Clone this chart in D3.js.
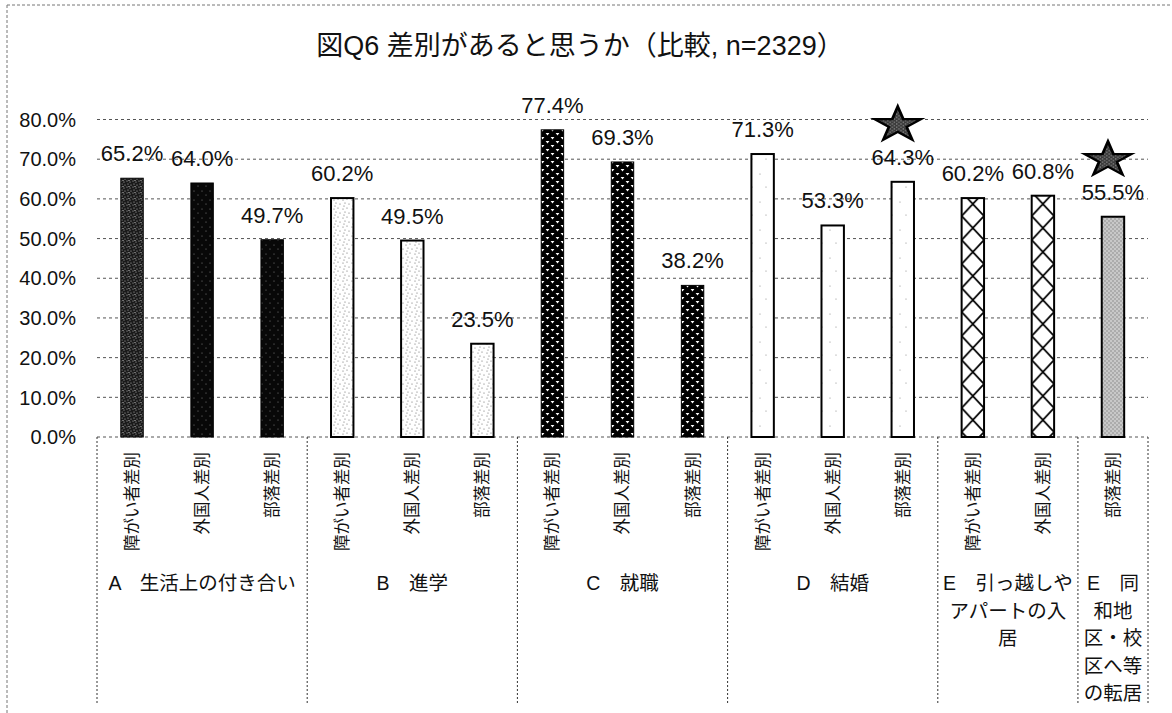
<!DOCTYPE html>
<html><head><meta charset="utf-8">
<script src="https://cdn.jsdelivr.net/npm/d3@7"></script>
<style>
body{margin:0;background:#fff;}
svg{display:block;font-family:"Liberation Sans","Noto Sans CJK JP",sans-serif;}
</style></head><body>
<div id="chart"></div>
<script>
// 図Q6 差別があると思うか（比較）
const title = "図Q6 差別があると思うか（比較, n=2329）";
const groupKeys = ["A","B","C","D","E","F"];
const groupLabels = [
  ["A　生活上の付き合い"],
  ["B　進学"],
  ["C　就職"],
  ["D　結婚"],
  ["E　引っ越しや","アパートの入","居"],
  ["E　同","和地","区・校","区へ等","の転居"]
];
const barGroup  = ["A","A","A","B","B","B","C","C","C","D","D","D","E","E","F"];
const barLabels = ["障がい者差別","外国人差別","部落差別","障がい者差別","外国人差別","部落差別",
                   "障がい者差別","外国人差別","部落差別","障がい者差別","外国人差別","部落差別",
                   "障がい者差別","外国人差別","部落差別"];
const values    = [65.2,64.0,49.7,60.2,49.5,23.5,77.4,69.3,38.2,71.3,53.3,64.3,60.2,60.8,55.5];
const starred   = [11,14];
const yTicks    = [0,10,20,30,40,50,60,70,80];

const W=1172, H=713, m={l:97,r:24};
const svg = d3.select("#chart").append("svg").attr("width",W).attr("height",H);
const defs = svg.append("defs");

const x = d3.scaleBand().domain(d3.range(values.length)).range([m.l, W-m.r])
  .paddingInner(0.68).paddingOuter(0.34);
const y = d3.scaleLinear().domain([0,80]).range([437,119.5]);

// Muster (Scan-Optik)
function tile(id,w,h,bg){
  const p=defs.append("pattern").attr("id",id).attr("patternUnits","userSpaceOnUse").attr("width",w).attr("height",h);
  p.append("rect").attr("width",w).attr("height",h).attr("fill",bg);
  return p;
}
const dots=(p,pts,c,r)=>pts.forEach(([a,b])=>p.append("circle").attr("cx",a).attr("cy",b).attr("r",r).attr("fill",c));

const pA1=tile("patA1",6,6,"#1a1a1a");
dots(pA1,[[1,1],[4,2],[2,4],[5,5],[3,0.5]],"#bbb",0.6);
const pA=tile("patA",8,9,"#080808");
dots(pA,[[2,2],[6,6]],"#999",0.5);
const pB=tile("patB",9,9,"#fff");
dots(pB,[[1,2],[5,1],[3,5],[7,6],[2,8]],"#666",0.6);
const pC=tile("patC",10,8,"#000");
pC.append("path").attr("d","M0.6,1 L4.4,1 L2.5,3.6Z M5.6,5 L9.4,5 L7.5,7.6Z").attr("fill","#fff");
const pD=tile("patD",14,28,"#fff");
dots(pD,[[4,6],[10,19]],"#888",0.6);
const pF=tile("patF",4,4,"#c8c8c8");
dots(pF,[[1,1],[3,3]],"#7a7a7a",0.7);
const pS=tile("patS",4,4,"#3a3a3a");
dots(pS,[[1,1],[3,3]],"#999",0.7);

// Kreuzschraffur je Balken an Balkenkante ausgerichtet
function crossFor(i){
  const bw=x.bandwidth(), th=24, id="patE"+i;
  const p=defs.append("pattern").attr("id",id).attr("patternUnits","userSpaceOnUse")
    .attr("x",x(i)).attr("y",0).attr("width",bw).attr("height",th);
  p.append("rect").attr("width",bw).attr("height",th).attr("fill","#fff");
  p.append("path").attr("d",`M0,0 L${bw},${th} M${bw},0 L0,${th}`).attr("stroke","#000").attr("stroke-width",1.8);
  return `url(#${id})`;
}
function fillFor(i){
  const g=barGroup[i];
  if(g==="A") return barLabels[i]==="障がい者差別" ? "url(#patA1)" : "url(#patA)";
  if(g==="B") return "url(#patB)";
  if(g==="C") return "url(#patC)";
  if(g==="D") return "url(#patD)";
  if(g==="E") return crossFor(i);
  return "url(#patF)";
}

// Rahmen
svg.append("line").attr("x1",7).attr("x2",W).attr("y1",5).attr("y2",5)
  .attr("stroke","#777").attr("stroke-dasharray","3,2");
svg.append("line").attr("x1",7).attr("x2",7).attr("y1",5).attr("y2",H)
  .attr("stroke","#777").attr("stroke-dasharray","3,2");

// Titel
svg.append("text").attr("x",580).attr("y",55).attr("text-anchor","middle")
  .attr("font-size",27).attr("fill","#111").text(title);

// Gitter + y-Achse
const grid=svg.append("g");
yTicks.forEach(t=>{
  grid.append("line").attr("x1",m.l).attr("x2",W-m.r).attr("y1",y(t)).attr("y2",y(t))
    .attr("stroke","#555").attr("stroke-width",1).attr("stroke-dasharray","3,3");
  grid.append("text").attr("x",76).attr("y",y(t)).attr("dy",".36em").attr("text-anchor","end")
    .attr("font-size",20).attr("fill","#111").text(t.toFixed(1)+"%");
});

// Balken
const bars=svg.append("g");
values.forEach((v,i)=>{
  bars.append("rect").attr("x",x(i)).attr("y",y(v)).attr("width",x.bandwidth()).attr("height",y(0)-y(v))
    .attr("fill",fillFor(i)).attr("stroke","#000").attr("stroke-width",barGroup[i]==="A"||barGroup[i]==="C"?1:2);
  bars.append("text").attr("x",x(i)+x.bandwidth()/2).attr("y",y(v)-17).attr("text-anchor","middle")
    .attr("font-size",22).attr("fill","#111").text(v.toFixed(1)+"%");
});

// Sterne
const star=d3.symbol(d3.symbolStar,560);
starred.forEach(i=>{
  svg.append("path").attr("d",star())
    .attr("transform",`translate(${x(i)+x.bandwidth()/2-5},${y(values[i])-57}) scale(1.1,0.82)`)
    .attr("fill","url(#patS)").attr("stroke","#000").attr("stroke-width",2.6).attr("stroke-linejoin","miter");
});

// Kategorie-Achse: senkrechte Beschriftung
const cat=svg.append("g");
barLabels.forEach((s,i)=>{
  cat.append("text").attr("transform",`translate(${x(i)+x.bandwidth()/2},452) rotate(-90)`)
    .attr("text-anchor","end").attr("dy",".36em").attr("font-size",16.5).attr("fill","#111").text(s);
});

// Gruppen-Trennlinien und Gruppen-Beschriftung
const gIdx=groupKeys.map(k=>[barGroup.indexOf(k), barGroup.lastIndexOf(k)]);
const half=(x.step()-x.bandwidth())/2;
const edges=[x(0)-half].concat(gIdx.map(([a,b])=>x(b)+x.bandwidth()+half));
edges.forEach(e=>{
  cat.append("line").attr("x1",e).attr("x2",e).attr("y1",y(0)).attr("y2",705)
    .attr("stroke","#333").attr("stroke-dasharray","2,2");
});
groupLabels.forEach((lines,gi)=>{
  const cx=(edges[gi]+edges[gi+1])/2;
  lines.forEach((s,li)=>{
    cat.append("text").attr("x",cx).attr("y",583+li*27.5).attr("dy",".36em").attr("text-anchor","middle")
      .attr("font-size",19.5).attr("fill","#111").text(s);
  });
});
</script>
</body></html>
